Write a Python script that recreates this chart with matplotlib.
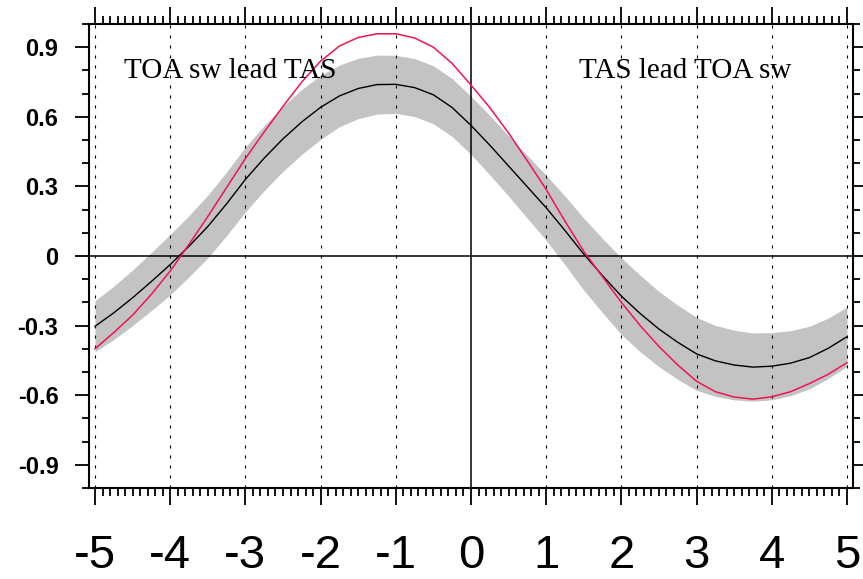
import numpy as np
import matplotlib
matplotlib.use("Agg")
import matplotlib.pyplot as plt
from matplotlib.ticker import MultipleLocator, FixedLocator

# Lag (years); negative = TOA sw leads TAS
lags = [-5.00, -4.75, -4.50, -4.25, -4.00, -3.75, -3.50, -3.25, -3.00, -2.75,
        -2.50, -2.25, -2.00, -1.75, -1.50, -1.25, -1.00, -0.75, -0.50, -0.25,
        0.00, 0.25, 0.50, 0.75, 1.00, 1.25, 1.50, 1.75, 2.00, 2.25,
        2.50, 2.75, 3.00, 3.25, 3.50, 3.75, 4.00, 4.25, 4.50, 4.75, 5.00]

# Multi-model mean lag correlation
model_mean = [-0.303, -0.245, -0.180, -0.110, -0.037, 0.042, 0.127, 0.225, 0.330, 0.422,
              0.505, 0.578, 0.641, 0.690, 0.722, 0.739, 0.740, 0.726, 0.695, 0.640,
              0.563, 0.478, 0.388, 0.298, 0.208, 0.110, 0.008, -0.085, -0.173, -0.248,
              -0.315, -0.372, -0.422, -0.452, -0.470, -0.479, -0.475, -0.462, -0.438, -0.398,
              -0.348]

# Model spread (upper / lower envelope)
spread_hi = [-0.193, -0.130, -0.060, 0.015, 0.093, 0.174, 0.262, 0.362, 0.470, 0.562,
             0.645, 0.718, 0.779, 0.823, 0.852, 0.866, 0.865, 0.851, 0.820, 0.765,
             0.688, 0.606, 0.518, 0.433, 0.348, 0.258, 0.163, 0.075, -0.008, -0.083,
             -0.153, -0.212, -0.265, -0.299, -0.320, -0.332, -0.330, -0.322, -0.303, -0.268,
             -0.220]
spread_lo = [-0.413, -0.360, -0.300, -0.235, -0.167, -0.090, -0.008, 0.088, 0.190, 0.282,
             0.365, 0.438, 0.503, 0.557, 0.592, 0.612, 0.615, 0.601, 0.570, 0.515,
             0.438, 0.350, 0.258, 0.163, 0.068, -0.038, -0.147, -0.245, -0.338, -0.413,
             -0.477, -0.532, -0.579, -0.605, -0.620, -0.626, -0.620, -0.602, -0.573, -0.528,
             -0.476]

# Observed lag correlation
observed = [-0.400, -0.330, -0.255, -0.165, -0.065, 0.050, 0.170, 0.295, 0.420, 0.535,
            0.645, 0.750, 0.840, 0.905, 0.942, 0.958, 0.958, 0.940, 0.900, 0.830,
            0.737, 0.640, 0.530, 0.410, 0.287, 0.150, 0.020, -0.090, -0.200, -0.300,
            -0.390, -0.470, -0.540, -0.585, -0.608, -0.617, -0.607, -0.585, -0.550, -0.510,
            -0.460]

x_ticks = [-5, -4, -3, -2, -1, 0, 1, 2, 3, 4, 5]
y_ticks = [-0.9, -0.6, -0.3, 0, 0.3, 0.6, 0.9]
y_tick_labels = ["-0.9", "-0.6", "-0.3", "0", "0.3", "0.6", "0.9"]

fig = plt.figure(figsize=(8.63, 5.79), dpi=100)
ax = fig.add_axes([0.1031, 0.1572, 0.8853, 0.8013])

ax.fill_between(lags, spread_lo, spread_hi, color="#c3c3c3", linewidth=0, zorder=1)

# dotted verticals at every integer lag, solid zero lines
for xv in x_ticks:
    if xv == 0:
        continue
    ax.axvline(xv, color="black", lw=0.8, linestyle=(0, (2.7, 6.3)), zorder=2)
ax.axvline(0, color="black", lw=1.1, zorder=2)
ax.axhline(0, color="black", lw=1.1, zorder=2)

ax.plot(lags, model_mean, color="black", lw=1.0, zorder=3, solid_joinstyle="round")
ax.plot(lags, observed, color="#f0144f", lw=1.1, zorder=4, solid_joinstyle="round")

ax.set_xlim(-5.08, 5.08)
ax.set_ylim(-1.0, 1.0)

ax.xaxis.set_major_locator(FixedLocator(x_ticks))
ax.xaxis.set_minor_locator(MultipleLocator(0.1))
ax.yaxis.set_major_locator(FixedLocator(y_ticks))
ax.yaxis.set_minor_locator(MultipleLocator(0.1))
ax.set_xticklabels([str(v) for v in x_ticks])
ax.set_yticklabels(y_tick_labels)

ax.tick_params(axis="both", which="both", direction="out", top=True, right=True,
               width=1.3, color="black")
ax.tick_params(axis="x", which="major", length=12, pad=21, labelsize=34)
ax.tick_params(axis="x", which="minor", length=5.5)
ax.tick_params(axis="y", which="major", length=10, pad=12, labelsize=17)
ax.tick_params(axis="y", which="minor", length=5)

for lab in ax.get_xticklabels():
    lab.set_family("Liberation Sans")
for lab in ax.get_yticklabels():
    lab.set_family("Liberation Sans")
    lab.set_fontweight("bold")

for sp in ax.spines.values():
    sp.set_linewidth(1.5)

ax.text(-4.615, 0.767, "TOA sw lead TAS", family="Liberation Serif", fontsize=21,
        ha="left", va="baseline", zorder=5)
ax.text(4.265, 0.767, "TAS lead TOA sw", family="Liberation Serif", fontsize=21,
        ha="right", va="baseline", zorder=5)

fig.savefig("out.png", dpi=100)
